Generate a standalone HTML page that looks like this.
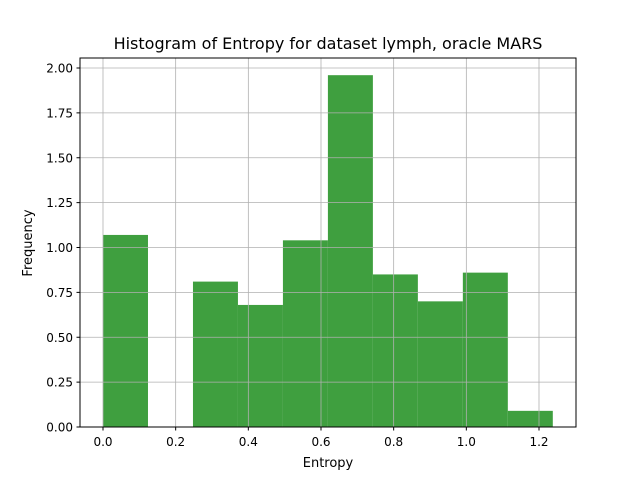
<!DOCTYPE html>
<html><head><meta charset="utf-8"><style>
body{margin:0;background:#fff;}
svg{display:block;font-family:"DejaVu Sans","Liberation Sans",sans-serif;}
</style></head><body>
<svg id="chart" width="640" height="480">
<rect x="0" y="0" width="640" height="480" fill="#fff"/>
<text x="328" y="49" text-anchor="middle" font-size="16" fill="#000">Histogram of Entropy for dataset lymph, oracle MARS</text>
<g id="bars"></g>
<g id="grid"></g>
<rect x="80" y="58" width="496" height="369" fill="none" stroke="#000" stroke-width="1"/>
<g id="ticks"></g>
<text x="328" y="467" text-anchor="middle" font-size="13">Entropy</text>
<text x="32" y="243" text-anchor="middle" font-size="13" transform="rotate(-90 32 243)">Frequency</text>
</svg>
<script>
const binStart = 0.0;
const binEnd = 1.238;
const frequencies = [1.07, 0, 0.81, 0.68, 1.04, 1.96, 0.85, 0.70, 0.86, 0.09];
const xTicks = [0.0, 0.2, 0.4, 0.6, 0.8, 1.0, 1.2];
const yTicks = [0.0, 0.25, 0.5, 0.75, 1.0, 1.25, 1.5, 1.75, 2.0];
const xTickLabels = ["0.0","0.2","0.4","0.6","0.8","1.0","1.2"];
const yTickLabels = ["0.00","0.25","0.50","0.75","1.00","1.25","1.50","1.75","2.00"];

const NS="http://www.w3.org/2000/svg";
function xs(v){return 103 + v*(436/1.2);}
function ys(v){return 427 - v*179.5;}
function mk(tag,attrs,parent){const e=document.createElementNS(NS,tag);for(const k in attrs)e.setAttribute(k,attrs[k]);parent.appendChild(e);return e;}
const bars=document.getElementById('bars'),grid=document.getElementById('grid'),ticks=document.getElementById('ticks');
const w=(binEnd-binStart)/frequencies.length;
frequencies.forEach((f,i)=>{
  const x0=xs(binStart+i*w),x1=xs(binStart+(i+1)*w);
  const r=mk('rect',{x:x0,y:ys(f),width:x1-x0,height:ys(0)-ys(f),fill:'#3f9f3f'},bars);
  
  
});
xTicks.forEach((t,i)=>{
  const x=xs(t);
  const g=mk('line',{x1:x,x2:x,y1:58,y2:427,stroke:'#b0b0b0','stroke-width':0.8},grid);
  
  
  mk('line',{x1:x,x2:x,y1:427,y2:430.5,stroke:'#000'},ticks);
  const tx=mk('text',{x:x,y:446,'text-anchor':'middle','font-size':12},ticks);
  tx.textContent=xTickLabels[i];
  
  
});
yTicks.forEach((t,i)=>{
  const y=ys(t);
  const g=mk('line',{x1:80,x2:576,y1:y,y2:y,stroke:'#b0b0b0','stroke-width':0.8},grid);
  
  
  mk('line',{x1:76.5,x2:80,y1:y,y2:y,stroke:'#000'},ticks);
  const tx=mk('text',{x:73,y:y+4.5,'text-anchor':'end','font-size':12},ticks);
  tx.textContent=yTickLabels[i];
  
  
});
</script>
</body></html>
